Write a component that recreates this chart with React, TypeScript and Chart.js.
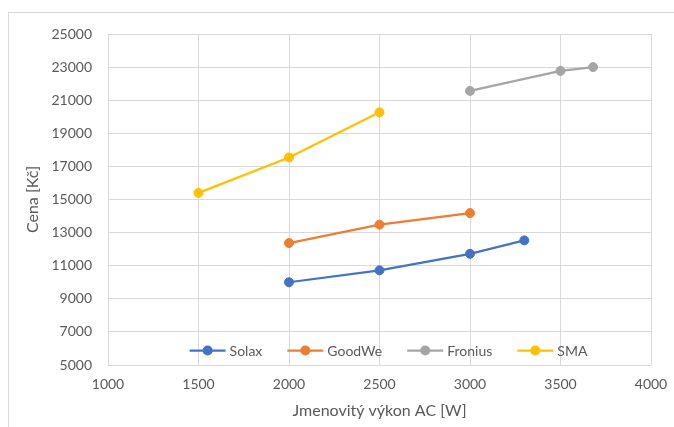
import React, { useEffect, useRef } from "react";
import { Chart, registerables } from "chart.js";

Chart.register(...registerables);

const seriesNames = ["Solax", "GoodWe", "Fronius", "SMA"];
const seriesColors = ["#4472C4", "#ED7D31", "#A5A5A5", "#FFC000"];

const solaxX = [2000, 2500, 3000, 3300];
const solaxY = [10000, 10720, 11720, 12530];
const goodweX = [2000, 2500, 3000];
const goodweY = [12370, 13480, 14180];
const froniusX = [3000, 3500, 3680];
const froniusY = [21560, 22770, 23000];
const smaX = [1500, 2000, 2500];
const smaY = [15400, 17540, 20270];

const xTitle = "Jmenovitý výkon AC [W]";
const yTitle = "Cena [Kč]";
const xMin = 1000, xMax = 4000, xStep = 500;
const yMin = 5000, yMax = 25000, yStep = 2000;

const TEXT = "#595959";
const GRID = "#d9d9d9";
const FONT = "Lato, 'Open Sans', sans-serif";

const pts = (xs: number[], ys: number[]) => xs.map((x, i) => ({ x, y: ys[i] }));

const legendPlugin = {
  id: "excelLegend",
  afterDatasetsDraw(chart: any) {
    const { ctx, chartArea } = chart;
    const ds = chart.data.datasets;
    ctx.save();
    ctx.font = `14px ${FONT}`;
    const iconW = 36, textGap = 4, spacing = 25;
    const widths = ds.map((d: any) => ctx.measureText(d.label).width);
    let total = 0;
    widths.forEach((w: number, i: number) => {
      total += iconW + textGap + w + (i < widths.length - 1 ? spacing : 0);
    });
    let x = (chartArea.left + chartArea.right) / 2 + 9 - total / 2;
    const y = chartArea.bottom - 14.5;
    ds.forEach((d: any, i: number) => {
      ctx.strokeStyle = d.borderColor;
      ctx.lineWidth = 2.25;
      ctx.beginPath();
      ctx.moveTo(x, y);
      ctx.lineTo(x + iconW, y);
      ctx.stroke();
      ctx.fillStyle = d.borderColor;
      ctx.beginPath();
      ctx.arc(x + iconW / 2, y, 5, 0, Math.PI * 2);
      ctx.fill();
      ctx.fillStyle = TEXT;
      ctx.textBaseline = "middle";
      ctx.textAlign = "left";
      ctx.fillText(d.label, x + iconW + textGap, y + 0.5);
      x += iconW + textGap + widths[i] + spacing;
    });
    ctx.restore();
  },
};

export default function App() {
  const ref = useRef<HTMLCanvasElement | null>(null);
  useEffect(() => {
    if (!ref.current) return;
    const data = [pts(solaxX, solaxY), pts(goodweX, goodweY), pts(froniusX, froniusY), pts(smaX, smaY)];
    const chart = new Chart(ref.current, {
      type: "line",
      data: {
        datasets: seriesNames.map((name, i) => ({
          label: name,
          data: data[i],
          borderColor: seriesColors[i],
          backgroundColor: seriesColors[i],
          pointBackgroundColor: seriesColors[i],
          pointBorderColor: seriesColors[i],
          borderWidth: 2.25,
          pointRadius: 4.5,
          pointBorderWidth: 1,
          tension: 0,
          fill: false,
        })),
      },
      options: {
        responsive: false,
        animation: false,
        layout: { padding: { top: 34, right: 23, left: 0, bottom: 0 } },
        plugins: { legend: { display: false }, tooltip: { enabled: false } },
        scales: {
          x: {
            type: "linear",
            min: xMin,
            max: xMax,
            ticks: { stepSize: xStep, color: TEXT, font: { family: FONT, size: 14 }, padding: 11, maxRotation: 0, callback: (v: any) => String(v) },
            grid: { color: GRID, lineWidth: 1, drawTicks: false },
            border: { display: false },
            title: { display: true, text: xTitle, color: TEXT, font: { family: FONT, size: 16 }, padding: { top: 0, bottom: 7 } },
            afterFit: (s: any) => { s.height = 62; s.paddingLeft = 0; s.paddingRight = 0; },
          },
          y: {
            type: "linear",
            min: yMin,
            max: yMax,
            ticks: { stepSize: yStep, color: TEXT, font: { family: FONT, size: 14 }, padding: 16, callback: (v: any) => String(v) },
            grid: { color: GRID, lineWidth: 1, drawTicks: false },
            border: { display: false },
            title: { display: true, text: yTitle, color: TEXT, font: { family: FONT, size: 16 }, padding: { top: 23, bottom: 0 } },
            afterFit: (s: any) => { s.width = 108; s.paddingTop = 0; s.paddingBottom = 0; },
          },
        },
      } as any,
      plugins: [legendPlugin],
    });
    return () => chart.destroy();
  }, []);
  return (
    <div style={{ position: "fixed", left: 0, top: 0, width: 674, height: 427, overflow: "hidden", background: "#fff" }}>
      <div style={{ position: "absolute", left: 8, top: 12, width: 800, height: 600, border: `1px solid ${GRID}` }} />
      <canvas ref={ref} width={674} height={427} style={{ position: "absolute", left: 0, top: 0, display: "block" }} />
    </div>
  );
}
